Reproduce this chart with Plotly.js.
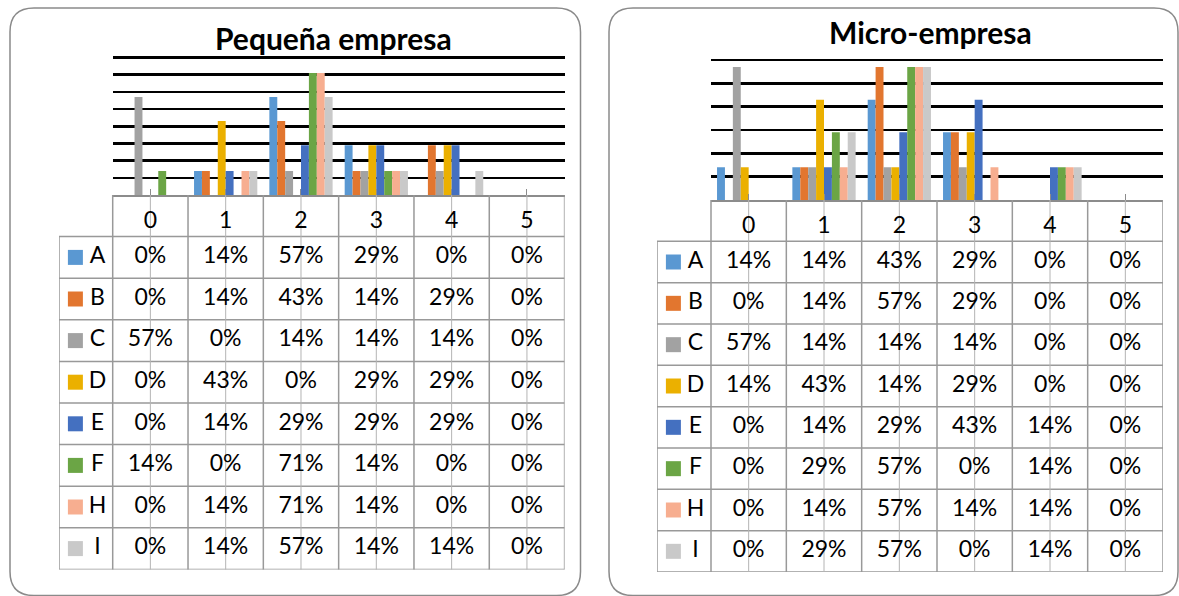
<!DOCTYPE html>
<html>
<head>
<meta charset="utf-8">
<script src="https://cdn.plot.ly/plotly-3.0.1.min.js"></script>
<style>
  html, body { margin: 0; padding: 0; background: #ffffff; }
  #chart { width: 1179px; height: 596px; }
</style>
</head>
<body>
<div id="chart"></div>
<script>
// Categories (score 0-5) and series labels shared by both charts
const categories = ['0', '1', '2', '3', '4', '5'];
const seriesNames = ['A', 'B', 'C', 'D', 'E', 'F', 'H', 'I'];
const seriesColors = ['#5A98D2', '#E2762F', '#A2A2A2', '#EBB000', '#4470C0', '#6BA545', '#F7AE90', '#C9C9C9'];

// Pequeña empresa (% per category)
const pequenaA = [0, 14, 57, 29, 0, 0];
const pequenaB = [0, 14, 43, 14, 29, 0];
const pequenaC = [57, 0, 14, 14, 14, 0];
const pequenaD = [0, 43, 0, 29, 29, 0];
const pequenaE = [0, 14, 29, 29, 29, 0];
const pequenaF = [14, 0, 71, 14, 0, 0];
const pequenaH = [0, 14, 71, 14, 0, 0];
const pequenaI = [0, 14, 57, 14, 14, 0];

// Micro-empresa (% per category)
const microA = [14, 14, 43, 29, 0, 0];
const microB = [0, 14, 57, 29, 0, 0];
const microC = [57, 14, 14, 14, 0, 0];
const microD = [14, 43, 14, 29, 0, 0];
const microE = [0, 14, 29, 43, 14, 0];
const microF = [0, 29, 57, 0, 14, 0];
const microH = [0, 14, 57, 14, 14, 0];
const microI = [0, 29, 57, 0, 14, 0];

const W = 1179, H = 596;
const px = v => v / W;
const py = v => 1 - v / H;
const FONT = 'Lato, "Open Sans", sans-serif';

const traces = [];
const shapes = [];
const annotations = [];
const layout = {
  width: W, height: H,
  margin: { l: 0, r: 0, t: 0, b: 0, pad: 0 },
  paper_bgcolor: '#ffffff',
  plot_bgcolor: 'rgba(0,0,0,0)',
  showlegend: false,
  barmode: 'group',
  bargap: 0.16,
  bargroupgap: 0,
  font: { family: FONT, color: '#000000' }
};

function roundRect(l, t, r, b, rad) {
  const X = v => px(v).toFixed(5), Y = v => py(v).toFixed(5);
  return `M ${X(l + rad)},${Y(t)} L ${X(r - rad)},${Y(t)} Q ${X(r)},${Y(t)} ${X(r)},${Y(t + rad)} ` +
         `L ${X(r)},${Y(b - rad)} Q ${X(r)},${Y(b)} ${X(r - rad)},${Y(b)} ` +
         `L ${X(l + rad)},${Y(b)} Q ${X(l)},${Y(b)} ${X(l)},${Y(b - rad)} ` +
         `L ${X(l)},${Y(t + rad)} Q ${X(l)},${Y(t)} ${X(l + rad)},${Y(t)} Z`;
}

// One chart panel: clustered bars on top, data table with legend keys below
function addPanel(p, n) {
  const bx = n === 1 ? '' : String(n);
  const tx = String(n + 1);
  const xb = 'x' + bx, yb = 'y' + bx, xt = 'x' + tx, yt = 'y' + tx;
  const nCat = categories.length;
  const nRows = seriesNames.length;
  const catIdx = categories.map((c, i) => i);
  const colW = (p.plotR - p.plotL) / nCat;
  const xMin = -0.5 - (p.plotL - p.legendL) / colW;
  const xMax = nCat - 0.5;

  // bars
  p.series.forEach((vals, k) => {
    traces.push({
      type: 'bar', x: catIdx, y: vals, name: seriesNames[k],
      marker: { color: seriesColors[k], line: { width: 0 } },
      xaxis: xb, yaxis: yb, hoverinfo: 'skip'
    });
  });

  const gridVals = [];
  for (let v = p.yStep; v <= p.yMax + 1e-9; v += p.yStep) gridVals.push(v);

  // small headroom so the top rule stays inside the plotting area
  const pxPerUnit = (p.axisY - p.topY) / p.yMax;
  const head = 1.5 / pxPerUnit;

  layout['xaxis' + bx] = {
    domain: [px(p.plotL), px(p.plotR)], range: [-0.5, xMax],
    showgrid: false, zeroline: false, showline: true,
    linecolor: '#8c8c8c', linewidth: 2,
    ticks: 'inside', ticklen: 6, tickwidth: 1, tickcolor: '#8c8c8c',
    tickmode: 'array', tickvals: catIdx, showticklabels: false,
    anchor: yb, fixedrange: true
  };
  layout['yaxis' + bx] = {
    domain: [py(p.axisY), py(p.topY - 1.5)], range: [0, p.yMax + head],
    tickmode: 'array', tickvals: gridVals, showticklabels: false,
    showgrid: true, gridcolor: '#000000', gridwidth: 2.5,
    zeroline: false, showline: false, ticks: '',
    anchor: xb, fixedrange: true
  };

  // data table axes
  layout['xaxis' + tx] = {
    domain: [px(p.legendL), px(p.plotR)], range: [xMin, xMax],
    visible: false, anchor: yt, fixedrange: true
  };
  layout['yaxis' + tx] = {
    domain: [py(p.tableB), py(p.axisY)], range: [nRows + 0.5, -0.5],
    visible: false, anchor: xt, fixedrange: true
  };

  const cellFont = { family: FONT, size: 23, color: '#000000' };

  // header row with category labels
  traces.push({
    type: 'scatter', mode: 'text', x: catIdx, y: catIdx.map(() => 0.15),
    text: categories, textposition: 'middle center', textfont: cellFont,
    xaxis: xt, yaxis: yt, hoverinfo: 'skip', cliponaxis: false
  });

  // value cells
  p.series.forEach((vals, k) => {
    traces.push({
      type: 'scatter', mode: 'text', x: catIdx, y: catIdx.map(() => k + 1),
      text: vals.map(v => v + '%'), textposition: 'middle center', textfont: cellFont,
      xaxis: xt, yaxis: yt, hoverinfo: 'skip', cliponaxis: false
    });
  });

  // legend keys and series letters
  traces.push({
    type: 'scatter', mode: 'markers',
    x: seriesNames.map(() => xMin + 16.4 / colW),
    y: seriesNames.map((s, k) => k + 1),
    marker: { symbol: 'square', size: 15, color: seriesColors, line: { width: 0 } },
    xaxis: xt, yaxis: yt, hoverinfo: 'skip', cliponaxis: false
  });
  traces.push({
    type: 'scatter', mode: 'text',
    x: seriesNames.map(() => xMin + 38.5 / colW),
    y: seriesNames.map((s, k) => k + 1),
    text: seriesNames, textposition: 'middle center', textfont: cellFont,
    xaxis: xt, yaxis: yt, hoverinfo: 'skip', cliponaxis: false
  });

  // table rules
  const rule = { color: '#999999', width: 1.5 };
  for (let r = 0; r <= nRows; r++) {
    shapes.push({ type: 'line', layer: 'below', xref: xt, yref: yt,
      x0: xMin, x1: xMax, y0: r + 0.5, y1: r + 0.5, line: rule });
  }
  shapes.push({ type: 'line', layer: 'below', xref: xt, yref: yt,
    x0: xMin, x1: xMin, y0: 0.5, y1: nRows + 0.5, line: rule });
  for (let c = 0; c <= nCat; c++) {
    shapes.push({ type: 'line', layer: 'below', xref: xt, yref: yt,
      x0: c - 0.5, x1: c - 0.5, y0: -0.5, y1: nRows + 0.6, line: rule });
  }
  catIdx.forEach(c => {
    shapes.push({ type: 'line', layer: 'below', xref: xt, yref: yt,
      x0: c, x1: c, y0: -0.5, y1: nRows + 0.6, line: { color: '#b4b4b4', width: 1 } });
  });

  // title
  annotations.push({
    text: '<b>' + p.title + '</b>', xref: 'paper', yref: 'paper',
    x: px(p.titleX), y: py(p.titleY), xanchor: 'center', yanchor: 'middle',
    showarrow: false, font: { family: FONT, size: 30, color: '#000000' }
  });

  // rounded chart frame
  shapes.push({
    type: 'path', xref: 'paper', yref: 'paper', layer: 'above',
    path: roundRect(p.box[0], p.box[1], p.box[2], p.box[3], 24),
    line: { color: '#8a8a8a', width: 1.5 }, fillcolor: 'rgba(0,0,0,0)'
  });
}

addPanel({
  title: 'Pequeña empresa', titleX: 333, titleY: 38,
  series: [pequenaA, pequenaB, pequenaC, pequenaD, pequenaE, pequenaF, pequenaH, pequenaI],
  yMax: 80, yStep: 10,
  plotL: 112.7, plotR: 564.6, legendL: 59,
  topY: 57.5, axisY: 195, tableB: 569.4,
  box: [10, 8, 580.5, 595.5]
}, 1);

addPanel({
  title: 'Micro-empresa', titleX: 930, titleY: 32,
  series: [microA, microB, microC, microD, microE, microF, microH, microI],
  yMax: 60, yStep: 10,
  plotL: 711, plotR: 1163, legendL: 657,
  topY: 60, axisY: 200, tableB: 572,
  box: [609, 8, 1178, 595.5]
}, 3);

layout.shapes = shapes;
layout.annotations = annotations;

Plotly.newPlot('chart', traces, layout, { staticPlot: true, displayModeBar: false });
</script>
</body>
</html>
